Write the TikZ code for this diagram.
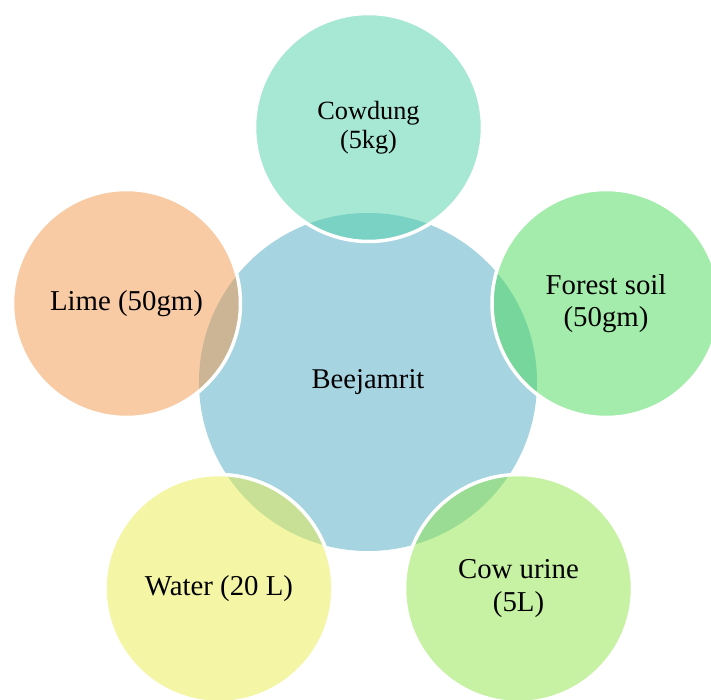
\documentclass[tikz,border=0pt]{standalone}
\usepackage{fontspec}
\setmainfont{Liberation Serif}
\definecolor{cCenter}{RGB}{166,212,225}
\definecolor{cCow}{RGB}{77,209,167}
\definecolor{cLime}{RGB}{243,151,75}
\definecolor{cForest}{RGB}{71,217,87}
\definecolor{cWater}{RGB}{233,237,75}
\definecolor{cUrine}{RGB}{143,229,71}
\tikzset{
  hub/.style={circle, fill=cCenter, minimum size=338pt, inner sep=0pt,
    align=center, font=\fontsize{28.6}{32}\selectfont},
  petal/.style={circle, fill=#1, fill opacity=0.5, draw=white, draw opacity=1,
    line width=3.5pt, text opacity=1, minimum size=228pt, inner sep=0pt,
    align=center, font=\fontsize{28.8}{32.5}\selectfont}
}
\begin{document}
\begin{tikzpicture}[x=1pt,y=-1pt]
\useasboundingbox (0,0) rectangle (711,700);
\clip (0,0) rectangle (711,700);
\node[hub] (beej) at (368,382) {Beejamrit};
\node[petal=cCow, font=\fontsize{26.3}{29}\selectfont] (cowdung) at (368.5,127.5) {Cowdung\\(5kg)};
\node[petal=cForest] (forest) at (606,303.5) {Forest soil\\(50gm)};
\node[petal=cUrine] (urine) at (518.5,588.5) {Cow urine\\(5L)};
\node[petal=cWater] (water) at (219,588.5) {Water (20 L)};
\node[petal=cLime] (lime) at (126.5,303.5) {Lime (50gm)};
\end{tikzpicture}
\end{document}
